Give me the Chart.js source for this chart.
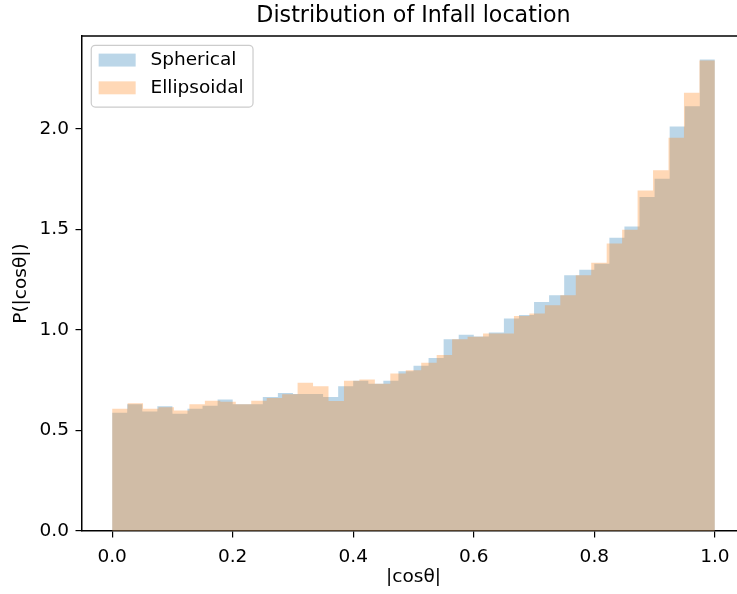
<!DOCTYPE html>
<html>
<head>
<meta charset="utf-8">
<title>Distribution of Infall location</title>
<script src="https://cdn.jsdelivr.net/npm/chart.js@4.4.0/dist/chart.umd.min.js"></script>
<style>
    html, body { margin: 0; padding: 0; background: #fff; overflow: hidden; }
    #wrap { width: 760px; height: 594px; }
</style>
</head>
<body>
<div id="wrap"><canvas id="infallChart" width="760" height="594"></canvas></div>
<script>
// Histogram heights (density per bin over |cos theta| in [0, 1])
// Spherical uses 40 bins, Ellipsoidal 39 bins
const sphericalValues = [
    0.588, 0.630, 0.595, 0.621, 0.583, 0.608, 0.623, 0.654, 0.630, 0.630,
    0.667, 0.687, 0.681, 0.681, 0.667, 0.720, 0.747, 0.733, 0.747, 0.795,
    0.822, 0.861, 0.954, 0.976, 0.968, 0.987, 1.057, 1.075, 1.139, 1.173,
    1.272, 1.300, 1.330, 1.459, 1.515, 1.661, 1.752, 2.012, 2.113, 2.345
];
const ellipsoidalValues = [
    0.608, 0.636, 0.608, 0.615, 0.600, 0.630, 0.648, 0.643, 0.630, 0.648,
    0.662, 0.680, 0.737, 0.720, 0.647, 0.747, 0.754, 0.733, 0.783, 0.800,
    0.837, 0.875, 0.954, 0.966, 0.982, 0.982, 1.070, 1.082, 1.123, 1.173,
    1.272, 1.334, 1.430, 1.499, 1.694, 1.794, 1.956, 2.180, 2.340
];
const seriesLabels = ['Spherical', 'Ellipsoidal'];
const binRange = [0, 1];
const xTickValues = [0, 0.2, 0.4, 0.6, 0.8, 1.0];
const yTickValues = [0, 0.5, 1.0, 1.5, 2.0];

const FONT = '"DejaVu Sans", sans-serif';
const FS = 18.5;   // 10pt in the original figure
const TEXT = '#000';

// Turn bin heights into step points: one point per left edge plus the closing right edge
function stepPoints(values) {
    const n = values.length;
    const span = binRange[1] - binRange[0];
    const pts = values.map((v, i) => ({ x: binRange[0] + span * i / n, y: v }));
    pts.push({ x: binRange[1], y: values[n - 1] });
    return pts;
}

// matplotlib-style autoscale: 5% margin
const allValues = sphericalValues.concat(ellipsoidalValues);
const yMax = Math.max(...allValues) * 1.05;
const xPad = (binRange[1] - binRange[0]) * 0.05;

// Top spine + legend drawn inside the axes, top-left, like matplotlib
const insideLegend = {
    id: 'insideLegend',
    afterDraw(chart) {
        const ctx = chart.ctx;
        const area = chart.chartArea;
        ctx.save();

        ctx.strokeStyle = '#000';
        ctx.lineWidth = 1.5;
        ctx.beginPath();
        ctx.moveTo(area.left, area.top);
        ctx.lineTo(area.right, area.top);
        ctx.stroke();

        ctx.font = FS + 'px ' + FONT;
        const sets = chart.data.datasets;
        const textW = Math.max(...sets.map(d => ctx.measureText(d.label).width));
        const x0 = area.left + 0.5 * FS;
        const y0 = area.top + 0.5 * FS;
        const pad = 0.4 * FS;
        const handleW = 2.0 * FS;
        const handleH = 0.7 * FS;
        const textX = x0 + pad + handleW + 0.8 * FS;
        const w = textX - x0 + textW + pad + 2;
        const h = 3.34 * FS;

        ctx.beginPath();
        ctx.roundRect(x0, y0, w, h, 4);
        ctx.fillStyle = 'rgba(255,255,255,0.8)';
        ctx.fill();
        ctx.strokeStyle = '#cccccc';
        ctx.lineWidth = 1.2;
        ctx.stroke();

        sets.forEach((d, i) => {
            const cy = y0 + 0.8 * FS + i * 1.5 * FS;
            ctx.fillStyle = d.backgroundColor;
            ctx.fillRect(x0 + pad, cy - handleH / 2, handleW, handleH);
            ctx.fillStyle = TEXT;
            ctx.textBaseline = 'middle';
            ctx.textAlign = 'left';
            ctx.fillText(d.label, textX, cy);
        });
        ctx.restore();
    }
};

function axisTicks(values) {
    return function(scale) {
        scale.ticks = values.map(v => ({ value: v }));
    };
}

const ctx = document.getElementById('infallChart').getContext('2d');
const chart = new Chart(ctx, {
    type: 'line',
    data: {
        datasets: [{
            label: seriesLabels[0],
            data: stepPoints(sphericalValues),
            backgroundColor: 'rgba(31, 119, 180, 0.3)',
            borderColor: 'rgba(0,0,0,0)',
            borderWidth: 0,
            pointRadius: 0,
            stepped: true,
            fill: 'origin',
            order: 2
        }, {
            label: seriesLabels[1],
            data: stepPoints(ellipsoidalValues),
            backgroundColor: 'rgba(255, 127, 14, 0.3)',
            borderColor: 'rgba(0,0,0,0)',
            borderWidth: 0,
            pointRadius: 0,
            stepped: true,
            fill: 'origin',
            order: 1
        }]
    },
    options: {
        responsive: false,
        animation: false,
        devicePixelRatio: 1,
        layout: { padding: { left: 0, right: 15, top: 0, bottom: 0 } },
        plugins: {
            legend: { display: false },
            tooltip: { enabled: false },
            title: {
                display: true,
                text: 'Distribution of Infall location',
                fullSize: false,
                color: TEXT,
                font: { family: FONT, size: 22.2, weight: 'normal', lineHeight: 1.2 },
                padding: { top: 2.5, bottom: 6.9 }
            }
        },
        scales: {
            x: {
                type: 'linear',
                min: binRange[0] - xPad,
                max: binRange[1] + xPad,
                afterBuildTicks: axisTicks(xTickValues),
                afterFit(scale) { scale.height = 63; },
                ticks: {
                    color: TEXT,
                    font: { family: FONT, size: FS },
                    padding: 9,
                    maxRotation: 0,
                    autoSkip: false,
                    callback: v => v.toFixed(1)
                },
                grid: { drawOnChartArea: false, drawTicks: true, tickLength: 6.5, color: '#000', lineWidth: 1.2 },
                border: { display: true, color: '#000', width: 1.5 },
                title: {
                    display: true,
                    text: '|cosθ|',
                    color: TEXT,
                    font: { family: FONT, size: FS },
                    padding: { top: 0, bottom: 6 }
                }
            },
            y: {
                min: 0,
                max: yMax,
                afterBuildTicks: axisTicks(yTickValues),
                afterFit(scale) { scale.width = 82; },
                ticks: {
                    color: TEXT,
                    font: { family: FONT, size: FS },
                    padding: 6.5,
                    autoSkip: false,
                    callback: v => v.toFixed(1)
                },
                grid: { drawOnChartArea: false, drawTicks: true, tickLength: 6.5, color: '#000', lineWidth: 1.2 },
                border: { display: true, color: '#000', width: 1.5 },
                title: {
                    display: true,
                    text: 'P(|cosθ|)',
                    color: TEXT,
                    font: { family: FONT, size: FS },
                    padding: { top: 10, bottom: 0 }
                }
            }
        }
    },
    plugins: [insideLegend]
});
</script>
</body>
</html>
